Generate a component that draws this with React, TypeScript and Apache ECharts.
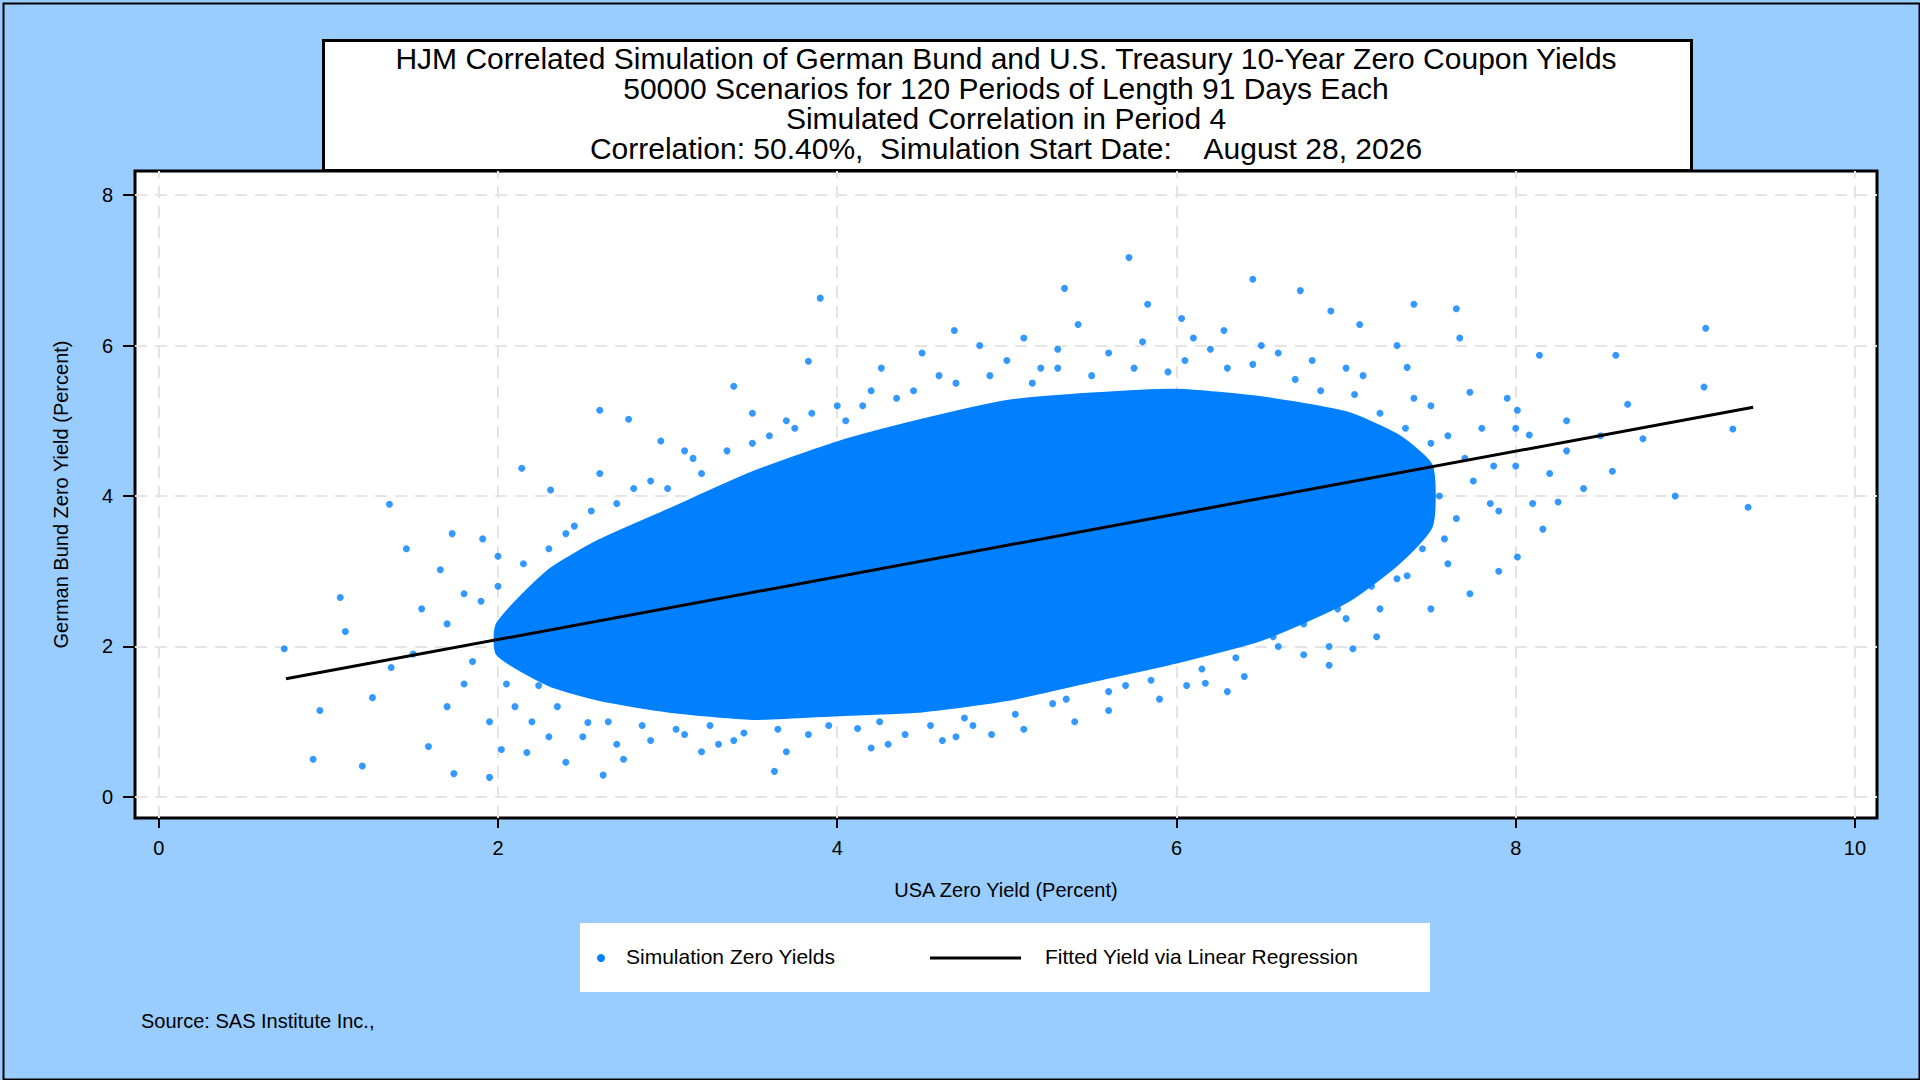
import { useRef, useEffect } from "react";
import * as echarts from "echarts";

const titleLines = [
  "HJM Correlated Simulation of German Bund and U.S. Treasury 10-Year Zero Coupon Yields",
  "50000 Scenarios for 120 Periods of Length 91 Days Each",
  "Simulated Correlation in Period 4",
  "Correlation: 50.40%,  Simulation Start Date:    August 28, 2026",
];
const xTicks = [0, 2, 4, 6, 8, 10];
const yTicks = [0, 2, 4, 6, 8];

// dense core of the cloud: [usa, bundLow, bundHigh]
const coreBand = [
  [2.0, 1.9, 2.3], [2.3, 1.5, 3.0], [2.6, 1.3, 3.4], [3.0, 1.15, 3.8],
  [3.5, 1.05, 4.3], [4.0, 1.1, 4.7], [4.5, 1.15, 5.0], [5.0, 1.3, 5.25],
  [5.5, 1.55, 5.35], [6.0, 1.8, 5.4], [6.5, 2.1, 5.3], [7.0, 2.6, 5.1],
  [7.3, 3.1, 4.8], [7.5, 3.6, 4.4],
];

// scattered points around the core
const scatterPoints = [
  [0.74, 1.97], [0.91, 0.5], [0.95, 1.15], [1.07, 2.65], [1.2, 0.41], [1.36, 3.89],
  [1.37, 1.72], [1.46, 3.3], [1.55, 2.5], [1.73, 3.5], [1.74, 0.31], [1.95, 0.26],
  [2.14, 4.37], [2.4, 0.46], [2.6, 5.14], [2.62, 0.29], [2.77, 5.02], [3.63, 0.34],
  [3.9, 6.63], [3.83, 5.79], [4.69, 6.2], [5.34, 6.76], [5.72, 7.17], [5.83, 6.55],
  [6.45, 6.88], [6.73, 6.73], [6.91, 6.46], [7.4, 6.55], [7.65, 6.49], [7.67, 6.1],
  [8.14, 5.87], [8.59, 5.87], [8.66, 5.22], [8.75, 4.76], [9.11, 5.45], [9.12, 6.23],
  [9.28, 4.89], [9.37, 3.85], [8.94, 4.0], [8.57, 4.33], [8.25, 3.92], [8.16, 3.56],
  [8.01, 3.19], [7.73, 2.7], [7.18, 2.13], [7.04, 1.97], [6.75, 1.89], [6.17, 1.51],
  [6.06, 1.48], [4.91, 0.83], [4.62, 0.75], [4.4, 0.83], [4.12, 0.91], [3.39, 0.75],
  [3.1, 0.83], [2.74, 0.5], [2.17, 0.59], [2.02, 0.63], [1.59, 0.67], [1.26, 1.32],
  [1.1, 2.2], [1.66, 3.02], [1.91, 3.43], [2.31, 4.08], [2.96, 4.73], [3.39, 5.46],
  [4.26, 5.7], [4.84, 6.0], [5.42, 6.28], [6.03, 6.36], [6.28, 6.2], [7.08, 6.28],
  [7.36, 5.71], [7.73, 5.38], [8.01, 5.14], [8.08, 4.81], [7.87, 4.4], [7.58, 3.43],
  [7.36, 2.94], [7.0, 2.37], [6.57, 2.13], [5.7, 1.48], [5.27, 1.24], [3.83, 0.83],
  [2.53, 0.99], [2.24, 1.48],
  [1.5, 1.9], [1.7, 2.3], [1.8, 1.5], [2.0, 2.8], [2.1, 1.2], [2.3, 3.3], [2.45, 3.6],
  [2.5, 0.8], [2.8, 4.1], [2.9, 0.75], [3.2, 4.3], [3.3, 0.7], [3.6, 4.8], [3.7, 5.0],
  [4.0, 5.2], [4.2, 5.4], [4.3, 0.7], [4.6, 5.6], [4.8, 0.95], [5.0, 5.8], [5.2, 5.7],
  [5.4, 1.0], [5.6, 5.9], [5.9, 1.3], [6.2, 5.95], [6.4, 1.6], [6.6, 5.9], [6.8, 5.8],
  [6.9, 2.0], [7.1, 5.6], [7.2, 2.5], [7.5, 5.2], [7.6, 3.1], [7.8, 4.9], [7.9, 3.8],
  [8.0, 4.4], [8.3, 4.6], [8.4, 4.1], [7.3, 6.0], [6.1, 6.1], [5.1, 6.1], [4.5, 5.9],
  // edge speckle
  [1.9, 2.6], [1.85, 1.8], [2.05, 1.5], [2.15, 3.1], [2.2, 1.0], [2.35, 1.2], [2.4, 3.5],
  [2.55, 3.8], [2.65, 1.0], [2.7, 3.9], [2.85, 0.95], [2.9, 4.2], [3.0, 4.1], [3.05, 0.9],
  [3.15, 4.5], [3.25, 0.95], [3.35, 4.6], [3.45, 0.85], [3.5, 4.7], [3.65, 0.9],
  [3.75, 4.9], [3.85, 5.1], [3.95, 0.95], [4.05, 5.0], [4.15, 5.2], [4.25, 1.0],
  [4.35, 5.3], [4.45, 5.4], [4.55, 0.95], [4.7, 5.5], [4.75, 1.05], [4.9, 5.6], [5.05, 1.1],
  [5.15, 5.5], [5.3, 5.7], [5.35, 1.3], [5.5, 5.6], [5.6, 1.4], [5.75, 5.7], [5.85, 1.55],
  [5.95, 5.65], [6.05, 5.8], [6.15, 1.7], [6.3, 5.7], [6.35, 1.85], [6.45, 5.75],
  [6.6, 2.0], [6.7, 5.55], [6.75, 2.3], [6.85, 5.4], [6.95, 2.5], [7.05, 5.35],
  [7.15, 2.8], [7.2, 5.1], [7.3, 2.9], [7.35, 4.9], [7.45, 3.3], [7.5, 4.7], [7.55, 4.0],
  [7.65, 3.7], [7.7, 4.5], [7.75, 4.2], [7.85, 3.9], [7.6, 4.8], [7.4, 5.3], [7.0, 5.7],
  [6.5, 6.0], [5.8, 6.05], [5.3, 5.95], [3.5, 5.1], [3.1, 4.6], [2.6, 4.3], [2.0, 3.2],
  [1.8, 2.7], [1.7, 1.2], [1.95, 1.0], [2.3, 0.8], [2.7, 0.7], [3.2, 0.6], [3.7, 0.6],
  [4.2, 0.65], [4.7, 0.8], [5.1, 0.9], [5.6, 1.15], [6.3, 1.4], [6.9, 1.75], [7.5, 2.5],
  [7.9, 3.0], [8.1, 3.9], [8.2, 4.3], [8.0, 4.9], [7.95, 5.3], [8.3, 5.0], [8.5, 4.8],
];

const fitLine = [
  [0.75, 1.57],
  [9.4, 5.18],
];

const blue = "#0080ff";
const font = "Liberation Sans, Arial, sans-serif";

const App = () => {
  const chartRef = useRef<HTMLDivElement>(null);

  useEffect(() => {
    const chart = echarts.init(chartRef.current, null, { renderer: "svg" });
    chart.setOption({
      animation: false,
      backgroundColor: "#99ccff",
      textStyle: { fontFamily: font },
      grid: {
        left: 135,
        right: 43,
        top: 171,
        bottom: 262,
        show: true,
        backgroundColor: "#fff",
        borderColor: "#000",
        borderWidth: 3,
      },
      xAxis: {
        type: "value",
        min: -0.14,
        max: 10.13,
        name: "USA Zero Yield (Percent)",
        nameLocation: "middle",
        nameGap: 62,
        nameTextStyle: { fontSize: 20, color: "#000" },
        axisLine: { show: true, onZero: false, lineStyle: { color: "#000", width: 2 } },
        axisTick: { show: true, customValues: xTicks, length: 10, lineStyle: { color: "#000", width: 2 } },
        axisLabel: { customValues: xTicks, fontSize: 20, color: "#000", margin: 20 },
        splitLine: { show: false },
      },
      yAxis: {
        type: "value",
        min: -0.28,
        max: 8.32,
        name: "German Bund Zero Yield (Percent)",
        nameLocation: "middle",
        nameGap: 64,
        nameTextStyle: { fontSize: 20, color: "#000" },
        axisLine: { show: true, onZero: false, lineStyle: { color: "#000", width: 2 } },
        axisTick: { show: true, customValues: yTicks, length: 12, lineStyle: { color: "#000", width: 2 } },
        axisLabel: { customValues: yTicks, fontSize: 20, color: "#000", margin: 22 },
        splitLine: { show: false },
      },
      series: [
        {
          type: "custom",
          data: [[0, 0]],
          silent: true,
          z: 2,
          renderItem: (_params: any, api: any) => {
            const top = coreBand.map((d) => api.coord([d[0], d[2]]));
            const bottom = coreBand.map((d) => api.coord([d[0], d[1]])).reverse();
            return {
              type: "polygon",
              shape: { points: top.concat(bottom), smooth: 0.2 },
              style: { fill: blue, stroke: blue, lineWidth: 4 },
            };
          },
        },
        {
          type: "scatter",
          name: "Simulation Zero Yields",
          data: scatterPoints,
          symbolSize: 7,
          itemStyle: { color: blue },
          z: 3,
        },
        {
          type: "line",
          name: "Fitted Yield via Linear Regression",
          data: fitLine,
          showSymbol: false,
          lineStyle: { color: "#000", width: 3 },
          z: 4,
          markLine: {
            silent: true,
            symbol: "none",
            label: { show: false },
            lineStyle: { color: "#e4e4e4", type: [12, 8], width: 2 },
            z: 1,
            data: [
              ...xTicks.map((v) => ({ xAxis: v })),
              ...yTicks.map((v) => ({ yAxis: v })),
            ],
          },
        },
      ],
      graphic: [
        { type: "rect", left: 1, top: 1, shape: { width: 1916, height: 1076 }, style: { fill: "none", stroke: "#000", lineWidth: 2 } },
        { type: "rect", left: 322, top: 39, shape: { width: 1368, height: 130 }, style: { fill: "#fff", stroke: "#000", lineWidth: 3 } },
        {
          type: "text",
          x: 1006,
          y: 43,
          style: {
            text: titleLines.join("\n"),
            font: `30px ${font}`,
            lineHeight: 30,
            align: "center",
            verticalAlign: "top",
            fill: "#000",
          },
        },
        { type: "rect", left: 580, top: 923, shape: { width: 850, height: 69 }, style: { fill: "#fff" } },
        { type: "circle", shape: { cx: 601, cy: 958, r: 4 }, style: { fill: blue } },
        { type: "text", left: 626, top: 946, style: { text: "Simulation Zero Yields", font: `21px ${font}`, fill: "#000" } },
        { type: "line", shape: { x1: 930, y1: 958, x2: 1021, y2: 958 }, style: { stroke: "#000", lineWidth: 3 } },
        { type: "text", left: 1045, top: 946, style: { text: "Fitted Yield via Linear Regression", font: `21px ${font}`, fill: "#000" } },
        { type: "text", left: 141, top: 1011, style: { text: "Source: SAS Institute Inc.,", font: `20px ${font}`, fill: "#000" } },
      ],
    });
    return () => {
      chart.dispose();
    };
  }, []);

  return (
    <div
      ref={chartRef}
      style={{ position: "fixed", left: 0, top: 0, width: "1920px", height: "1080px" }}
    ></div>
  );
};

export default App;
